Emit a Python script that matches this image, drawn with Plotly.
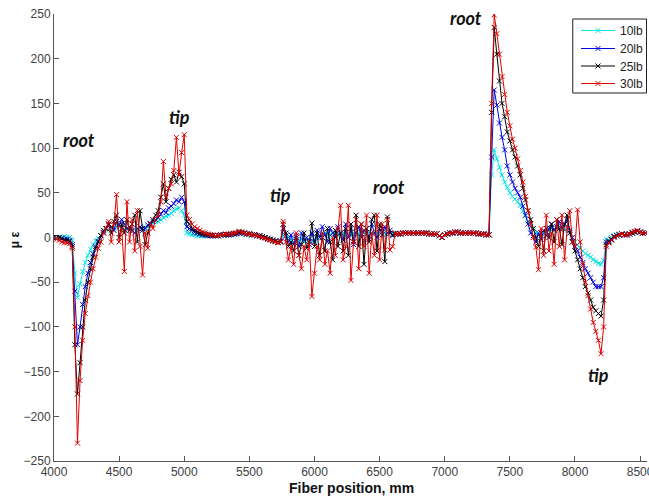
import plotly.graph_objects as go

# Shared fibre-position grid (mm), 20 mm step
x_pos = list(range(4000, 8541, 20))

strain_10lb = [
    0, 0, 0, 0, 1, 0, 0, -3, -40, -67,
    -52, -38, -28, -20, -13, -8, -4, -1, 2, 5,
    8, 10, 12, 10, 14, 12, 10, 9, 10, 8,
    8, 9, 10, 9, 10, 11, 12, 14, 16, 18,
    18, 20, 22, 24, 25, 27, 30, 32, 33, 30,
    25, 5, 4, 3, 3, 2, 2, 2, 2, 2,
    2, 2, 2, 2, 2, 3, 3, 3, 3, 4,
    4, 5, 5, 4, 4, 3, 3, 3, 2, 2,
    1, 0, -1, -2, -3, -4, -5, -4, 2, 5,
    0, -2, -5, -3, -4, -2, -5, -3, -5, -4,
    -3, 0, 2, 3, 5, 4, 3, 2, 5, 4,
    3, 5, 2, 4, 3, 5, 6, 4, 3, 5,
    4, 6, 5, 3, 5, 4, 6, 5, 4, 5,
    5, 4, 4, 4, 5, 5, 5, 5, 5, 5,
    5, 5, 5, 5, 4, 4, 4, 4, 2, 0,
    3, 4, 5, 5, 6, 6, 5, 5, 5, 5,
    5, 5, 5, 4, 4, 4, 3, 3, 70, 98,
    88, 78, 70, 62, 56, 50, 46, 43, 40, 36,
    30, 24, 18, 12, 8, 5, 3, 2, 4, 6,
    8, 10, 9, 12, 10, 11, 9, 8, 5, 0,
    -5, -8, -12, -15, -18, -20, -22, -25, -27, -29,
    -30, -26, -2, -3, 0, 2, 3, 4, 4, 3,
    3, 4, 5, 6, 7, 6, 5, 5,
]

strain_20lb = [
    0, 0, 0, -1, -2, -2, -3, -8, -60, -120,
    -100, -75, -55, -40, -28, -18, -10, -4, 2, 6,
    10, 15, 12, 8, 18, 14, 20, 15, 10, 12,
    8, 5, 10, 12, 8, 10, 14, 16, 18, 20,
    22, 26, 30, 28, 33, 35, 38, 42, 40, 45,
    40, 12, 10, 8, 6, 5, 4, 3, 3, 2,
    2, 2, 2, 2, 3, 3, 3, 3, 3, 4,
    4, 5, 5, 5, 4, 4, 3, 3, 2, 2,
    1, 0, -1, -2, -3, -4, -5, -4, 10, 2,
    -5, 3, -8, 2, -10, 5, -3, 0, -8, 5,
    -5, 8, 0, 12, 3, -5, 10, 5, 0, 12,
    5, -3, 15, 0, 10, -8, 5, 12, 0, 8,
    10, -2, 15, 5, 0, 10, 3, 12, 5, 8,
    2, 4, 4, 4, 5, 5, 5, 5, 5, 5,
    5, 5, 5, 5, 4, 4, 4, 4, 2, 0,
    3, 4, 5, 5, 6, 6, 5, 5, 5, 5,
    5, 5, 5, 4, 4, 4, 3, 3, 90, 165,
    148, 128, 112, 98, 80, 70, 62, 55, 50, 45,
    35, 25, 15, 5, 2, -5, 5, -2, 8, 2,
    10, 15, 8, 12, 18, 10, 15, 20, 8, 0,
    -10, -15, -22, -28, -35, -40, -45, -50, -55, -55,
    -55, -45, -5, -4, -2, 1, 2, 3, 4, 3,
    3, 4, 5, 6, 7, 6, 5, 5,
]

strain_25lb = [
    0, 0, 0, -1, -3, -3, -4, -10, -120, -175,
    -140, -100, -70, -50, -35, -22, -12, -5, 2, 8,
    10, 15, 5, 18, 25, 0, 15, 5, 20, 8,
    15, 25, -5, 30, 10, -8, 5, 15, 20, 25,
    30, 45, 60, 40, 55, 65, 70, 62, 73, 68,
    60, 18, 15, 10, 8, 6, 5, 4, 3, 3,
    3, 2, 2, 2, 3, 3, 3, 3, 4, 4,
    5, 6, 6, 5, 4, 4, 3, 3, 2, 2,
    1, 0, -1, -2, -3, -4, -5, -5, 15, 5,
    -10, -5, -15, 0, -20, -8, 5, -12, -5, 16,
    -10, 5, -20, 0, -15, 10, -5, -25, 8, -10,
    5, -15, 10, -20, 15, -5, 25, -10, 15, -30,
    10, -5, 20, 25, -15, 15, 10, -27, 23, 5,
    3, 4, 4, 4, 5, 5, 5, 5, 5, 5,
    5, 5, 5, 5, 4, 4, 4, 4, 2, 0,
    3, 4, 5, 5, 6, 6, 5, 5, 5, 5,
    5, 5, 5, 4, 4, 4, 3, 3, 140, 235,
    205, 175, 150, 135, 118, 108, 98, 90, 80, 70,
    55, 42, 30, 20, 10, 0, -10, 5, -15, 10,
    0, 15, -5, 20, 10, -8, 15, 25, 5, -5,
    -15, -25, -35, -45, -55, -62, -70, -78, -82, -85,
    -88, -70, -8, -5, -2, 1, 2, 3, 4, 3,
    3, 4, 5, 6, 7, 6, 5, 5,
]

strain_30lb = [
    0, -2, -3, -5, -6, -6, -7, -12, -100, -230,
    -160, -115, -85, -65, -50, -35, -22, -12, -5, 5,
    10, 18, -5, 15, 48, -5, 10, -38, 40, -5,
    20, -15, 30, -10, -42, 5, -12, 15, 10, 20,
    25, 40, 85, 45, 55, 60, 75, 112, 70, 95,
    115, 25, 20, 15, 12, 10, 8, 6, 5, 4,
    3, 3, 2, 2, 3, 3, 4, 4, 4, 5,
    5, 7, 6, 5, 4, 4, 3, 3, 2, 1,
    0, -1, -2, -3, -4, -5, -6, -5, 18, -5,
    -25, -10, -30, 5, -20, -35, -10, -25, -5, -66,
    -40, -10, -25, 5, -30, -15, -40, 0, -20, 10,
    36, -25, -10, 36, -48, -5, 20, -35, 15, -10,
    25, -40, 5, -20, 25, -25, 15, -14, 20, -14,
    -10, 5, 4, 4, 5, 5, 5, 5, 5, 5,
    5, 5, 5, 5, 4, 4, 4, 4, 2, 0,
    3, 4, 5, 5, 6, 6, 5, 5, 5, 5,
    5, 5, 5, 4, 4, 4, 3, 3, 150, 249,
    228, 205, 180, 160, 140, 125, 110, 100, 88, 75,
    62, 46, 30, 15, 0, -11, -36, 10, -20, 25,
    -15, 5, -30, 20, -10, 25, -25, 10, 30, -5,
    -10, 31, -5, -30, -50, -65, -80, -95, -105, -115,
    -130, -100, -10, -6, -3, 0, 2, 3, 4, 3,
    3, 4, 6, 7, 8, 6, 5, 5,
]

series_names = ["10lb", "20lb", "25lb", "30lb"]
series_values = [strain_10lb, strain_20lb, strain_25lb, strain_30lb]
series_colors = ["#00e5e5", "#0000dd", "#000000", "#e00000"]

x_ticks = [4000, 4500, 5000, 5500, 6000, 6500, 7000, 7500, 8000, 8500]
y_ticks = [-250, -200, -150, -100, -50, 0, 50, 100, 150, 200, 250]

labels = [
    ("root", 4191, 109),
    ("tip", 4964, 135),
    ("tip", 5737, 48),
    ("root", 6571, 56),
    ("root", 7160, 246),
    ("tip", 8178, -154),
]

# plot area in pixels: left 54, right 649, top 14, bottom 461
PL, PR, PT, PB = 54, 649, 14, 461


def px_x(p):
    return (p - PL) / (PR - PL)


def px_y(p):
    return (PB - p) / (PB - PT)


legend_ids = ["legend", "legend2", "legend3", "legend4"]
legend_rows = [30.5, 48.5, 66.0, 83.5]

fig = go.Figure()
for name, vals, col, lid in zip(series_names, series_values, series_colors, legend_ids):
    fig.add_trace(go.Scatter(
        x=x_pos, y=vals, name=name, mode="lines+markers", legend=lid,
        line=dict(color=col, width=1),
        marker=dict(symbol="x-thin-open", size=5, color=col, line=dict(color=col, width=1)),
    ))

annotations = []
for txt, ax_, ay_ in labels:
    annotations.append(dict(
        x=ax_, y=ay_, xref="x", yref="y", text="<b><i>%s</i></b>" % txt,
        showarrow=False, font=dict(family="Lato, Open Sans, sans-serif", size=18, color="#111111"),
    ))
annotations.append(dict(
    x=px_x(353), y=px_y(488), xref="paper", yref="paper",
    text="<b>Fiber position, mm</b>",
    showarrow=False, yanchor="middle", xanchor="center",
    font=dict(family="Liberation Sans, Arial, sans-serif", size=14, color="#111111"),
))
annotations.append(dict(
    x=px_x(15), y=px_y(240), xref="paper", yref="paper", text="<b>μ ε</b>",
    showarrow=False, textangle=-90, xanchor="center", yanchor="middle",
    font=dict(family="Liberation Sans, Arial, sans-serif", size=12, color="#111111"),
))

legend_layout = {}
for lid, row in zip(legend_ids, legend_rows):
    legend_layout[lid] = dict(
        x=px_x(578), y=px_y(row), xanchor="left", yanchor="middle",
        borderwidth=0, bgcolor="rgba(0,0,0,0)",
        font=dict(family="Liberation Sans, Arial, sans-serif", size=12, color="#222222"),
        itemwidth=34,
    )

fig.update_layout(
    width=649, height=499,
    margin=dict(l=PL, r=649 - PR, t=PT, b=499 - PB),
    paper_bgcolor="white", plot_bgcolor="white",
    showlegend=True,
    annotations=annotations,
    shapes=[dict(
        type="rect", xref="paper", yref="paper",
        x0=px_x(574.5), x1=px_x(648.5), y0=px_y(93), y1=px_y(19),
        line=dict(color="#222222", width=1), fillcolor="white", layer="above",
    )],
    font=dict(family="Liberation Sans, Arial, sans-serif"),
    **legend_layout,
)
fig.update_xaxes(
    range=[4000, 8553], tickvals=x_ticks, ticks="inside", ticklen=5,
    showline=True, linecolor="#555555", linewidth=1, showgrid=False, zeroline=False,
    tickfont=dict(size=12, color="#404040"), tickcolor="#555555",
    ticklabeloverflow="allow", automargin=False,
)
fig.update_yaxes(
    range=[-250, 250], tickvals=y_ticks, ticks="inside", ticklen=5,
    showline=True, linecolor="#555555", linewidth=1, showgrid=False, zeroline=False,
    tickfont=dict(size=12, color="#404040"), tickcolor="#555555",
    automargin=False,
)

fig.write_html(
    "out.html",
    config={"displayModeBar": False},
    post_script="document.body.style.margin='0px';",
)
